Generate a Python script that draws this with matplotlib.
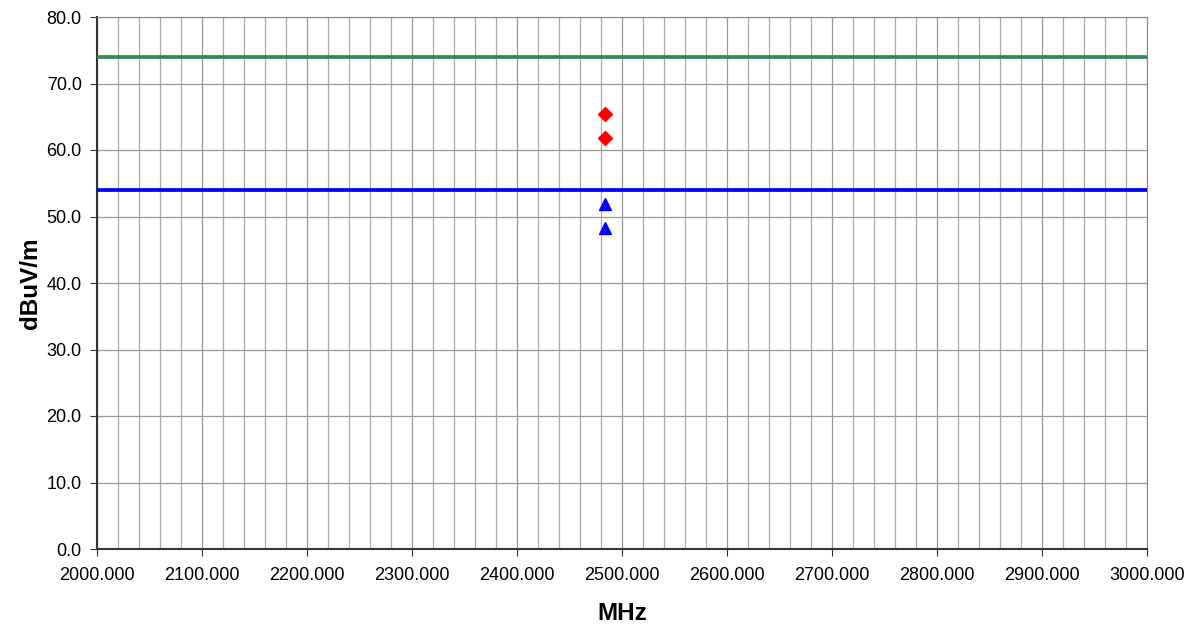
import numpy as np
import matplotlib.pyplot as plt
from matplotlib.ticker import MultipleLocator, FormatStrFormatter

plt.rcParams['font.family'] = ['Liberation Sans', 'DejaVu Sans']

# data
peak_freq = [2483.5, 2483.5]
peak_level = [65.4, 61.8]
avg_freq = [2483.5, 2483.5]
avg_level = [51.9, 48.3]
peak_limit = 74.0
avg_limit = 54.0

fig = plt.figure(figsize=(11.9, 6.24), dpi=100)
ax = fig.add_axes([97 / 1190, 1 - 549 / 624, 1050 / 1190, 532 / 624])

ax.set_xlim(2000, 3000)
ax.set_ylim(0, 80)
ax.xaxis.set_major_locator(MultipleLocator(100))
ax.xaxis.set_minor_locator(MultipleLocator(20))
ax.yaxis.set_major_locator(MultipleLocator(10))
ax.xaxis.set_major_formatter(FormatStrFormatter('%.3f'))
ax.yaxis.set_major_formatter(FormatStrFormatter('%.1f'))

ax.grid(which='major', color='#9a9a9a', lw=0.9)
ax.grid(which='minor', axis='x', color='#aaaaaa', lw=0.9)
ax.set_axisbelow(True)

ax.axhline(peak_limit, color='#2e8b57', lw=2.7, zorder=3)
ax.axhline(avg_limit, color='#0000ff', lw=2.7, zorder=3)
ax.plot(peak_freq, peak_level, 'D', color='red', ms=7.5, zorder=4)
ax.plot(avg_freq, avg_level, '^', color='blue', ms=9, zorder=4)

for s in ['top', 'right']:
    ax.spines[s].set_color('#888888')
for s in ['left', 'bottom']:
    ax.spines[s].set_color('#333333')
    ax.spines[s].set_linewidth(1.5)

ax.tick_params(which='major', labelsize=13, length=5, color='#333333')
ax.tick_params(which='minor', length=0)
ax.tick_params(axis='x', pad=8)
ax.tick_params(axis='y', pad=6)

ax.set_xlabel('MHz', fontsize=17.5, fontweight='bold', labelpad=13)
ax.set_ylabel('dBuV/m', fontsize=17.5, fontweight='bold', labelpad=3)

fig.savefig('out.png', dpi=100)
